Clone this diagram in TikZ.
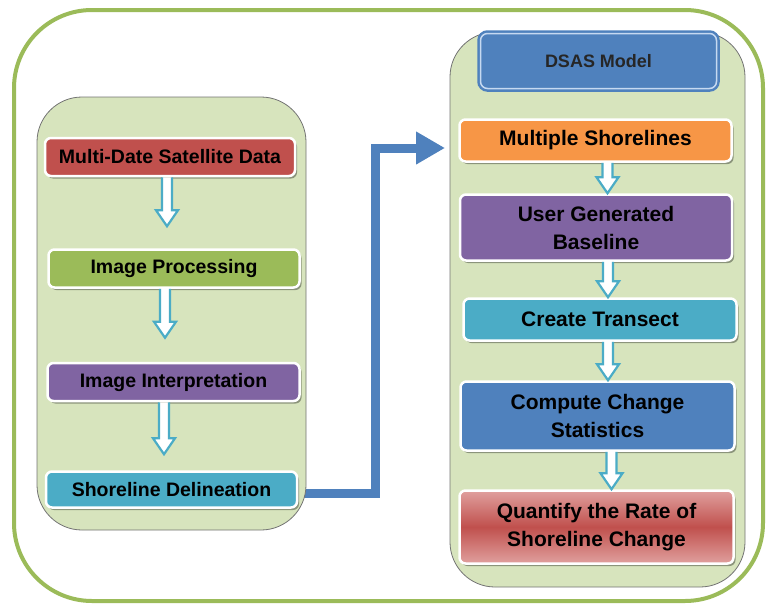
\documentclass[tikz,border=0pt]{standalone}
\usepackage{fontspec}
\setmainfont{Liberation Sans}
\usetikzlibrary{shadows,arrows.meta,calc}
\definecolor{cred}{HTML}{C0504D}
\definecolor{cgreen}{HTML}{9BBB59}
\definecolor{cpurple}{HTML}{8064A2}
\definecolor{ccyan}{HTML}{4BACC6}
\definecolor{corange}{HTML}{F79646}
\definecolor{cblue}{HTML}{4F81BD}
\definecolor{cpanel}{HTML}{D7E4BD}
\definecolor{clightred}{HTML}{E0A09E}
\definecolor{clightblue}{HTML}{C6D9F1}
\tikzset{
  outerframe/.style={draw=cgreen, line width=4pt, rounded corners=78pt},
  panel/.style={draw=black!55, fill=cpanel, line width=0.8pt, rounded corners=45pt},
  box/.style={rounded corners=6pt, draw=white, line width=2.5pt, align=center,
    inner sep=0pt, text=black, font=\bfseries\fontsize{19.5}{24}\selectfont,
    drop shadow={shadow xshift=2pt, shadow yshift=-2.5pt, opacity=0.35, fill=black}},
  rbox/.style={box, font=\bfseries\fontsize{21}{28}\selectfont},
  harrow/.style={draw=ccyan, fill=white, line width=2.2pt, line join=miter},
  conn/.style={draw=cblue, line width=9pt, line join=miter,
    -{Triangle[length=29pt,width=31pt]}},
}
\newcommand\hollowarrow[3]{%
  \draw[harrow] let \p1=($(#1)+(#3,0)$), \p2=(#2) in
    (\x1-5pt,\y1) -- (\x1-5pt,\y2+16pt) -- (\x1-11pt,\y2+16pt) -- (\x1,\y2)
    -- (\x1+11pt,\y2+16pt) -- (\x1+5pt,\y2+16pt) -- (\x1+5pt,\y1);}
\begin{document}
\begin{tikzpicture}[x=1pt,y=-1pt]
\useasboundingbox (0,0) rectangle (771,605);
\draw[outerframe] (14,10) rectangle (763,601);

% connector (drawn under the panels)
\node[box, fill=ccyan, minimum width=251pt, minimum height=36pt] (sd) at (171.5,489.5) {Shoreline Delineation};
\coordinate (tip) at (445,148);
\coordinate (bend) at (375.5,300);
\draw[conn] ([yshift=-4pt]sd.east) -| (bend |- tip) -- (tip);

% panels
\draw[panel] (37,97) rectangle (306,530);
\draw[panel] (450,32) rectangle (745,587);

% left boxes
\node[box, fill=cred, minimum width=250pt, minimum height=38pt] (mds) at (170,157) {Multi-Date Satellite Data};
\node[box, fill=cgreen, minimum width=251pt, minimum height=38pt] (ip) at (174,268.5) {Image Processing};
\node[box, fill=cpurple, minimum width=252pt, minimum height=38pt] (ii) at (173.5,382) {Image Interpretation};
\node[box, fill=ccyan, minimum width=251pt, minimum height=36pt] (sd) at (171.5,489.5) {Shoreline Delineation};

% right boxes
\node[rounded corners=7pt, draw=cblue, double=clightblue, double distance=1.5pt, line width=2.5pt,
  fill=cblue, minimum width=236pt, minimum height=55pt, inner sep=0pt,
  font=\bfseries\fontsize{18}{22}\selectfont, text=black!85] (dsas) at (598.5,61) {DSAS Model};
\node[rbox, fill=corange, minimum width=272pt, minimum height=42pt] (ms) at (595.5,140.5) {Multiple Shorelines};
\node[rbox, fill=cpurple, minimum width=272pt, minimum height=66pt] (ugb) at (596,227.5) {User Generated\\Baseline};
\node[rbox, fill=ccyan, minimum width=273pt, minimum height=42pt] (ct) at (600,319.5) {Create Transect};
\node[rbox, fill=cblue, minimum width=274pt, minimum height=69pt] (ccs) at (597.5,416) {Compute Change\\Statistics};
\node[rbox, top color=clightred, bottom color=clightred, middle color=cred,
  minimum width=274pt, minimum height=73pt] (q) at (596.5,527) {Quantify the Rate of\\Shoreline Change};

% hollow arrows
\hollowarrow{mds.south}{[yshift=22pt]ip.north}{-3pt}
\hollowarrow{ip.south}{[yshift=24pt]ii.north}{-9pt}
\hollowarrow{ii.south}{[yshift=16pt]sd.north}{-9.5pt}
\hollowarrow{ms.south}{ugb.north}{12pt}
\hollowarrow{ugb.south}{ct.north}{12pt}
\hollowarrow{ct.south}{ccs.north}{8pt}
\hollowarrow{ccs.south}{q.north}{14pt}
\end{tikzpicture}
\end{document}
